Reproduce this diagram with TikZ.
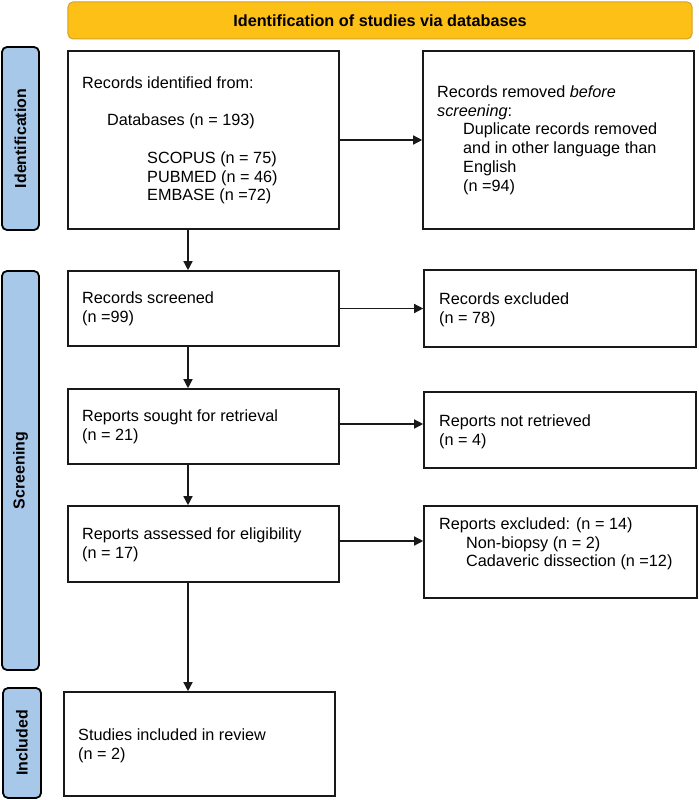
\documentclass[tikz,border=0pt]{standalone}
\usepackage{fontspec}
\setmainfont{Liberation Sans}
\usetikzlibrary{arrows.meta,calc}
\definecolor{bannerfill}{RGB}{253,192,22}
\definecolor{bannerdraw}{RGB}{214,160,40}
\definecolor{sidefill}{RGB}{168,200,234}
\definecolor{boxdraw}{RGB}{25,25,25}
\begin{document}
\begin{tikzpicture}[x=1bp,y=-1bp,
  txt/.style={font=\fontsize{16.3}{18.8}\selectfont, align=left, inner sep=0pt, anchor=west},
  flowbox/.style={draw=boxdraw, line width=1.6bp, inner sep=0pt},
  sidebar/.style={draw=black, line width=1.8bp, fill=sidefill, rounded corners=5bp, inner sep=0pt},
  sidelabel/.style={font=\fontsize{16}{18}\selectfont\bfseries, rotate=90, inner sep=0pt},
  arr/.style={draw=boxdraw, line width=1.4bp, -{Triangle[length=9bp,width=9bp]}}
]
\useasboundingbox (0,0) rectangle (699,800);

% banner
\node[draw=bannerdraw, line width=1bp, fill=bannerfill, rounded corners=5bp,
  minimum width=624bp, minimum height=37bp, inner sep=0pt,
  font=\fontsize{16.3}{18}\selectfont\bfseries] (banner) at (380,20.5)
  {Identification of studies via databases};

% sidebars
\node[sidebar, minimum width=37bp, minimum height=183bp] (sideid) at (20.5,138.5) {};
\node[sidelabel] (labid) at (sideid.center) {Identification};
\node[sidebar, minimum width=37bp, minimum height=399bp] (sidescr) at (20.5,470.5) {};
\node[sidelabel] (labscr) at (sidescr.center) {Screening};
\node[sidebar, minimum width=38bp, minimum height=110bp] (sideinc) at (22,743) {};
\node[sidelabel] (labinc) at (sideinc.center) {Included};

% left column boxes
\node[flowbox, minimum width=271bp, minimum height=178bp] (ident) at (203.5,140) {};
\node[flowbox, minimum width=271bp, minimum height=75bp] (scr) at (203.5,308.5) {};
\node[flowbox, minimum width=271bp, minimum height=75bp] (sought) at (203.5,426.5) {};
\node[flowbox, minimum width=271bp, minimum height=76bp] (assess) at (203.5,544) {};
\node[flowbox, minimum width=271bp, minimum height=104bp] (incl) at (199.5,744) {};

% right column boxes
\node[flowbox, minimum width=271bp, minimum height=178bp] (removed) at (558.5,140) {};
\node[flowbox, minimum width=272bp, minimum height=77bp] (excl) at (560,308.5) {};
\node[flowbox, minimum width=272bp, minimum height=76bp] (notret) at (560,430) {};
\node[flowbox, minimum width=273bp, minimum height=92bp] (exclrep) at (560.5,552) {};

% texts
\node[txt] (tident) at (82,140.5) {Records identified from:\\[18.8bp]
  \hspace*{25bp}Databases (n = 193)\\[18.8bp]
  \hspace*{65bp}SCOPUS (n = 75)\\
  \hspace*{65bp}PUBMED (n = 46)\\
  \hspace*{65bp}EMBASE (n =72)};
\node[txt] (tremoved) at (437,140) {Records removed \textit{before}\\
  \textit{screening}:\\
  \hspace*{26bp}Duplicate records removed\\
  \hspace*{26bp}and in other language than\\
  \hspace*{26bp}English\\
  \hspace*{26bp}(n =94)};
\node[txt] (tscr) at (82,309) {Records screened\\(n =99)};
\node[txt] (texcl) at (439,310) {Records excluded\\(n = 78)};
\node[txt] (tsought) at (82,427) {Reports sought for retrieval\\(n = 21)};
\node[txt] (tnotret) at (439,431.5) {Reports not retrieved\\(n = 4)};
\node[txt] (tassess) at (82,545) {Reports assessed for eligibility\\(n = 17)};
\node[txt] (texclrep) at (439,544) {Reports excluded: (n = 14)\\
  \hspace*{27bp}Non-biopsy (n = 2)\\
  \hspace*{27bp}Cadaveric dissection (n =12)};
\node[txt] (tincl) at (78,745.5) {Studies included in review\\(n = 2)};

% horizontal arrows
\draw[arr] (ident.east) -- (ident.east -| removed.west);
\draw[arr] (scr.east) -- (scr.east -| excl.west);
\draw[arr] ([yshift=2.5bp]sought.east) -- ([yshift=2.5bp]sought.east -| notret.west);
\draw[arr] ([yshift=3bp]assess.east) -- ([yshift=3bp]assess.east -| exclrep.west);

% vertical arrows
\draw[arr] ([xshift=-15.5bp]ident.south) -- ([xshift=-15.5bp]ident.south |- scr.north);
\draw[arr] ([xshift=-15.5bp]scr.south) -- ([xshift=-15.5bp]scr.south |- sought.north);
\draw[arr] ([xshift=-15.5bp]sought.south) -- ([xshift=-15.5bp]sought.south |- assess.north);
\draw[arr] ([xshift=-15.5bp]assess.south) -- ([xshift=-15.5bp]assess.south |- incl.north);
\end{tikzpicture}
\end{document}
